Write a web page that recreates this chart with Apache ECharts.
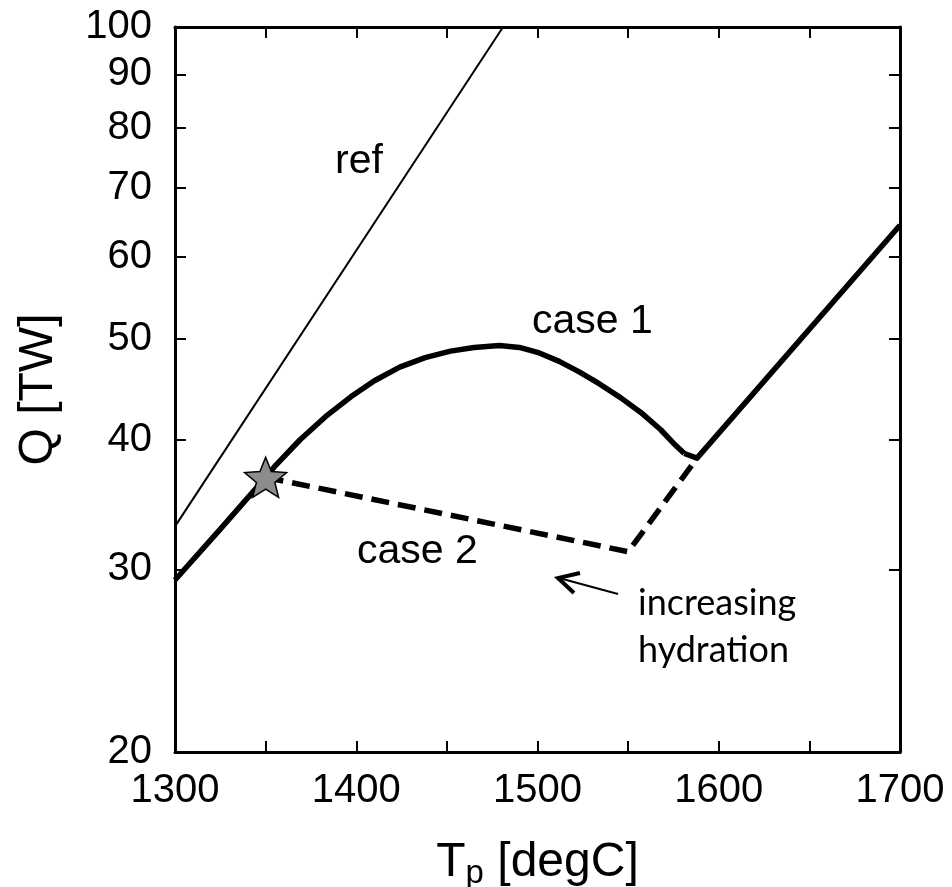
<!DOCTYPE html>
<html>
<head>
<meta charset="utf-8">
<script src="https://cdn.jsdelivr.net/npm/echarts@6/dist/echarts.min.js"></script>
<style>
  html, body { margin: 0; padding: 0; background: #fff; }
  #chart { width: 952px; height: 887px; }
</style>
</head>
<body>
<div id="chart"></div>
<script>
// data
const yTicks = [20, 30, 40, 50, 60, 70, 80, 90, 100]
const refLine = [[1300, 33.0], [1481, 100]]
// case 1: curved part, then the straight rise after the kink
const case1Curve = [
  [1300, 29.3], [1325, 32.8], [1350, 36.8], [1355, 37.7], [1369, 40.0],
  [1383, 42.1], [1397, 44.0], [1410, 45.6], [1424, 47.0], [1438, 48.0],
  [1452, 48.7], [1465, 49.1], [1479, 49.3], [1490, 49.1], [1501, 48.5],
  [1512, 47.6], [1523, 46.5], [1534, 45.3], [1546, 43.9], [1557, 42.5],
  [1568, 40.9], [1575, 39.7], [1581, 38.8]
]
const case1Tail = [[1581, 38.8], [1588, 38.4], [1700, 64.4]]
const case2 = [[1350, 36.8], [1550, 31.2], [1588, 38.4]]
const starPoint = [[1350, 36.8]]

const FONT = "'Liberation Sans', Arial, Helvetica, sans-serif"
const STAR = 'path://M50 0 L62.93 32.2 L97.55 34.55 L70.92 56.8 L79.39 90.45 L50 72 L20.61 90.45 L29.08 56.8 L2.45 34.55 L37.07 32.2 Z'

const chart = echarts.init(document.getElementById('chart'))

const axisLine = { show: true, onZero: false, lineStyle: { color: '#000', width: 3 } }
const tick = { show: true, inside: true, length: 11, lineStyle: { color: '#000', width: 2 } }

chart.setOption({
  backgroundColor: '#fff',
  animation: false,
  grid: { left: 175, right: 52, top: 27, bottom: 135, containLabel: false, outerBoundsMode: 'none' },
  xAxis: [
    {
      type: 'value', min: 1300, max: 1700, interval: 50,
      axisLine, axisTick: tick, splitLine: { show: false },
      axisLabel: {
        color: '#000', fontFamily: FONT, fontSize: 40, margin: 19,
        formatter: v => (v % 100 === 0 ? String(v) : '')
      },
      name: '{a|T}{b|p}{a| [degC]}',
      nameLocation: 'middle', nameGap: 84,
      nameTextStyle: {
        rich: {
          a: { fontFamily: FONT, fontSize: 48, color: '#000', lineHeight: 54, verticalAlign: 'middle' },
          b: { fontFamily: FONT, fontSize: 33, color: '#000', lineHeight: 54, verticalAlign: 'bottom', padding: [18, 0, 0, 0] }
        }
      }
    },
    {
      type: 'value', min: 1300, max: 1700, interval: 50, position: 'top',
      axisLine, axisTick: tick, axisLabel: { show: false }, splitLine: { show: false }
    }
  ],
  yAxis: [
    {
      type: 'log', logBase: 10, min: 20, max: 100,
      axisLine, splitLine: { show: false },
      axisTick: Object.assign({ customValues: yTicks }, tick),
      axisLabel: {
        customValues: yTicks, color: '#000', fontFamily: FONT, fontSize: 40, margin: 23,
        formatter: v => String(Math.round(v))
      },
      name: 'Q [TW]', nameLocation: 'middle', nameGap: 112, nameRotate: 90,
      nameTextStyle: { fontFamily: FONT, fontSize: 48, color: '#000' }
    },
    {
      type: 'log', logBase: 10, min: 20, max: 100, position: 'right',
      axisLine, splitLine: { show: false },
      axisTick: Object.assign({ customValues: yTicks }, tick),
      axisLabel: { show: false }
    }
  ],
  series: [
    {
      name: 'ref', type: 'line', data: refLine, showSymbol: false, symbol: 'none',
      lineStyle: { color: '#000', width: 2 }
    },
    {
      name: 'case 1', type: 'line', data: case1Curve, symbol: 'none', smooth: false,
      lineStyle: { color: '#000', width: 5.5, join: 'round' }
    },
    {
      name: 'case 1 tail', type: 'line', data: case1Tail, symbol: 'none',
      lineStyle: { color: '#000', width: 5.5, join: 'round' }
    },
    {
      name: 'case 2', type: 'line', data: case2, symbol: 'none',
      lineStyle: { color: '#000', width: 5.5, type: [18, 9], cap: 'butt' }
    },
    {
      name: 'start', type: 'scatter', data: starPoint, symbol: STAR, symbolSize: 42,
      symbolKeepAspect: true, z: 5,
      itemStyle: { color: '#8c8c8c', borderColor: '#000', borderWidth: 1.5, opacity: 1 }
    }
  ],
  graphic: [
    { type: 'text', x: 335, y: 162, style: { text: 'ref', font: '41px ' + FONT, fill: '#000', textVerticalAlign: 'middle' } },
    { type: 'text', x: 532, y: 322, style: { text: 'case 1', font: '41px ' + FONT, fill: '#000', textVerticalAlign: 'middle' } },
    { type: 'text', x: 357, y: 552, style: { text: 'case 2', font: '41px ' + FONT, fill: '#000', textVerticalAlign: 'middle' } },
    { type: 'text', x: 638, y: 603, style: { text: 'increasing', font: '36px Lato, sans-serif', fill: '#000', textVerticalAlign: 'middle' } },
    { type: 'text', x: 638, y: 650, style: { text: 'hydration', font: '36px Lato, sans-serif', fill: '#000', textVerticalAlign: 'middle' } },
    { type: 'line', shape: { x1: 618, y1: 594, x2: 559, y2: 578 }, style: { stroke: '#000', lineWidth: 2 } },
    { type: 'polyline', shape: { points: [[580, 573], [558, 578], [574, 593]] }, style: { stroke: '#000', lineWidth: 4, fill: null, lineJoin: 'miter' } }
  ]
})
</script>
</body>
</html>
